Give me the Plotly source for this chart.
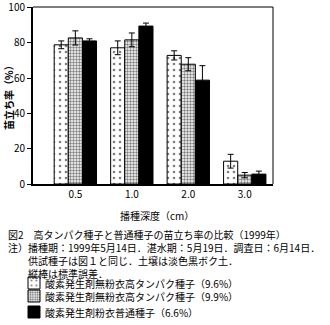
import plotly.graph_objects as go

# ---- data ----
categories = ["0.5", "1.0", "2.0", "3.0"]
series_names = [
    "酸素発生剤無粉衣高タンパク種子（9.6%）",
    "酸素発生剤無粉衣高タンパク種子（9.9%）",
    "酸素発生剤粉衣普通種子（6.6%）",
]
vals_a = [78.8, 77.1, 72.8, 12.9]
err_a = [2.2, 3.9, 2.6, 3.9]
vals_b = [82.7, 81.6, 67.8, 5.0]
err_b = [4.0, 3.9, 3.7, 1.5]
vals_c = [81.0, 89.4, 58.8, 5.6]
err_c = [1.2, 1.7, 8.2, 1.7]
y_ticks = [0, 20, 40, 60, 80, 100]
caption_lines = [
    "図2　高タンパク種子と普通種子の苗立ち率の比較（1999年）",
    "注）播種期：1999年5月14日．湛水期：5月19日．調査日：6月14日．",
    "　　供試種子は図１と同じ．土壌は淡色黒ボク土．",
    "　　縦棒は標準誤差．",
]

FONT = "Noto Sans CJK JP"
W, H = 330, 325
L, R, T, B = 33, 57, 7, 141
PW, PH = W - L - R, H - T - B
legend_rows = [283, 296, 312]


def px_x(px):
    return (px - L) / PW


def px_y(py):
    return (H - B - py) / PH


fig = go.Figure()
styles = [
    dict(color="white", pattern=dict(shape=".", fgcolor="black", bgcolor="white", size=6, solidity=0.15, fillmode="overlay")),
    dict(color="white", pattern=dict(shape=".", fgcolor="black", bgcolor="white", size=3, solidity=0.5, fillmode="overlay")),
    dict(color="black"),
]
legend_ids = ["legend", "legend2", "legend3"]
for name, v, e, st, lg in zip(series_names, [vals_a, vals_b, vals_c], [err_a, err_b, err_c], styles, legend_ids):
    fig.add_trace(go.Bar(
        x=categories, y=v, name=" ", legend=lg,
        marker=dict(line=dict(color="black", width=1), **st),
        error_y=dict(type="data", array=e, visible=True, color="black", thickness=1, width=3),
    ))

legend_layout = {}
for lg, row in zip(legend_ids, legend_rows):
    legend_layout[lg] = dict(xref="container", yref="container", x=14 / W, y=1 - row / H,
                             xanchor="left", yanchor="middle", bgcolor="rgba(0,0,0,0)",
                             font=dict(size=10), tracegroupgap=0)

fig.update_layout(
    width=W, height=H,
    margin=dict(l=L, r=R, t=T, b=B, autoexpand=False),
    paper_bgcolor="white", plot_bgcolor="white",
    barmode="group", bargap=0.25, bargroupgap=0,
    font=dict(family=FONT, size=10, color="black"),
    showlegend=True,
    xaxis=dict(type="category", range=[-0.75, 3.5], showgrid=False, zeroline=False,
               showline=True, linecolor="black", linewidth=2, ticks="",
               tickfont=dict(size=10, family=FONT), automargin=False),
    yaxis=dict(range=[0, 100.2], tickvals=y_ticks, showgrid=False, zeroline=False,
               showline=True, linecolor="black", linewidth=2, ticks="outside",
               ticklen=4, tickwidth=1, tickcolor="black", tickfont=dict(size=10, family=FONT),
               automargin=False, ticklabeloverflow="allow"),
    **legend_layout,
)
# top and right frame lines
fig.add_shape(type="line", xref="paper", yref="paper", x0=0, x1=1, y0=1, y1=1, line=dict(color="black", width=1))
fig.add_shape(type="line", xref="paper", yref="paper", x0=1, x1=1, y0=0, y1=1, line=dict(color="black", width=1))

ann = []
ann.append(dict(text="<b>苗立ち率（%）</b>", x=px_x(8), y=px_y(95), textangle=-90, yanchor="middle"))
ann.append(dict(text="播種深度（cm）", x=px_x(157), y=px_y(215), yanchor="middle"))
ann.append(dict(text="<br>".join(caption_lines), x=px_x(7), y=px_y(226), xanchor="left",
                yanchor="top", align="left"))
for name, row in zip(series_names, legend_rows):
    ann.append(dict(text=name, x=px_x(44), y=px_y(row), xanchor="left", yanchor="middle", height=11))
for a in ann:
    a.setdefault("xanchor", "center")
    fig.add_annotation(xref="paper", yref="paper", showarrow=False, borderpad=0,
                       font=dict(size=10), **a)

fig.write_html("out.html")
